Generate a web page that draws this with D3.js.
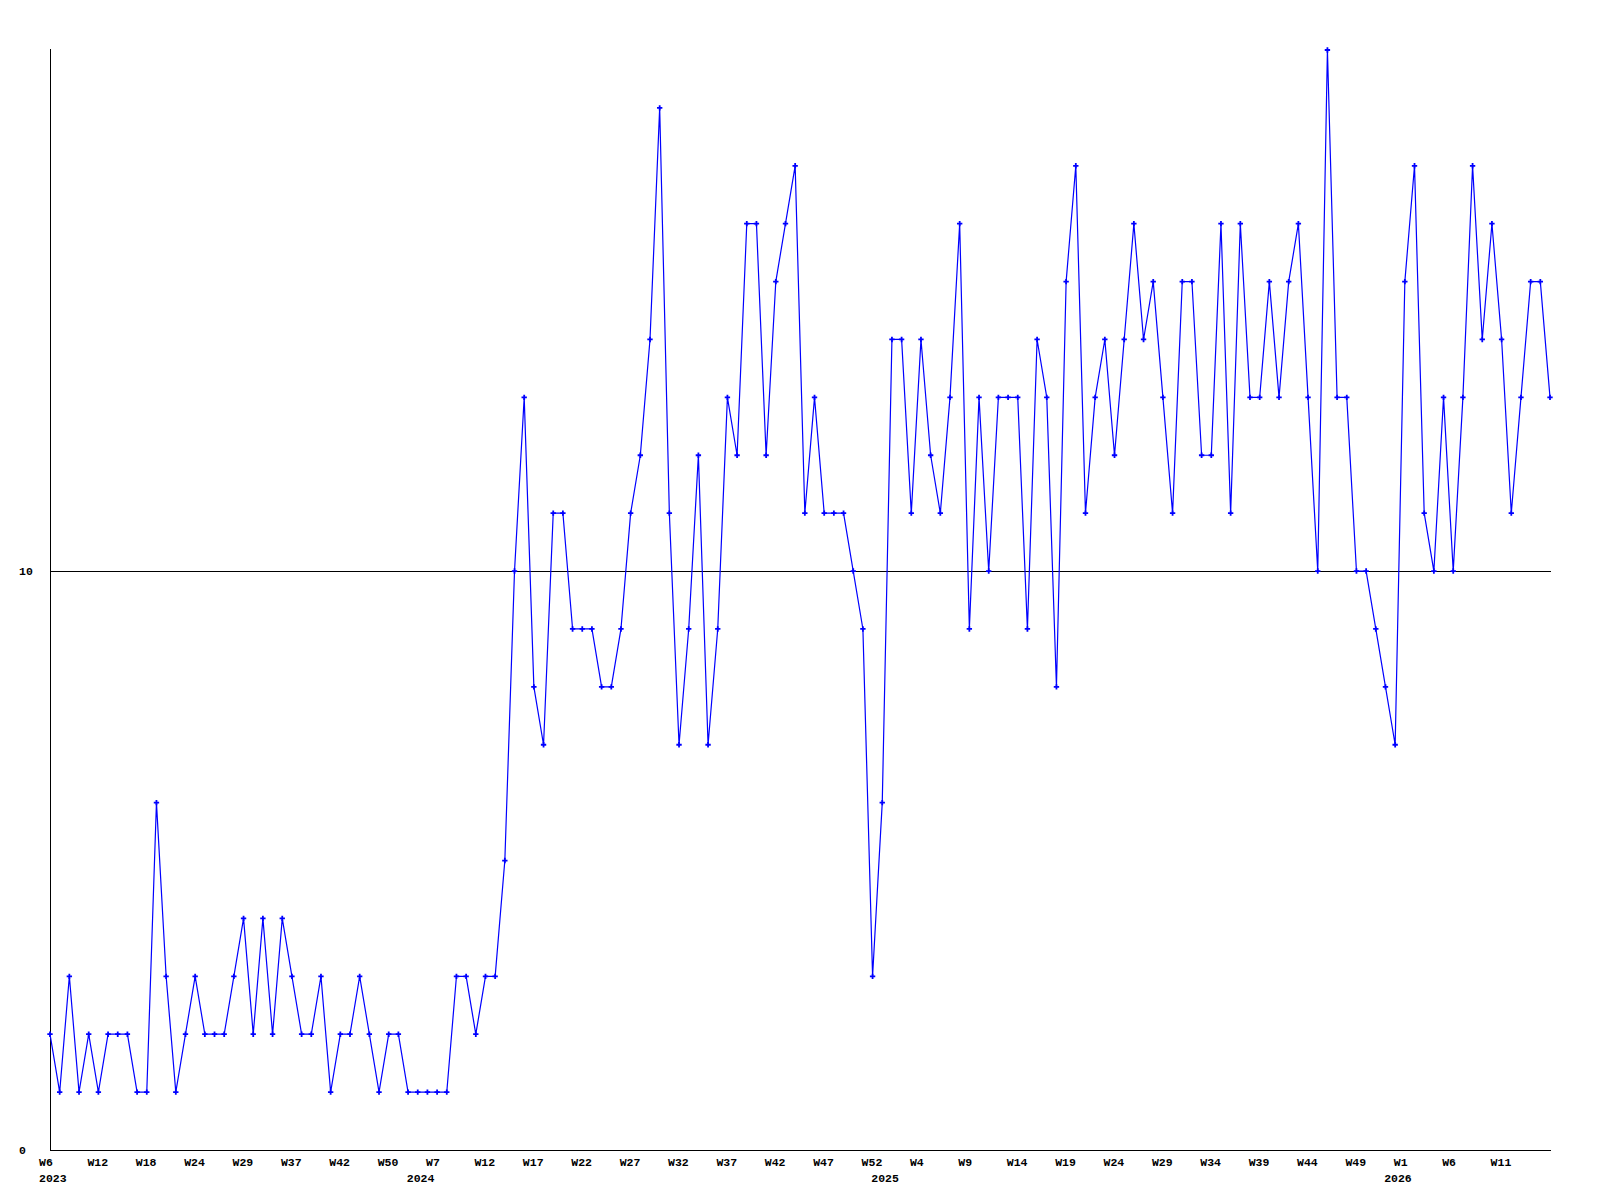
<!DOCTYPE html>
<html>
<head>
<meta charset="utf-8">
<script src="https://cdn.jsdelivr.net/npm/d3@7"></script>
<style>
  html, body { margin: 0; padding: 0; background: #ffffff; }
  svg { display: block; }
  text { font-family: "Liberation Mono", "DejaVu Sans Mono", monospace; font-weight: bold; font-size: 11.5px; fill: #000; }
</style>
</head>
<body>
<svg id="chart" width="1600" height="1200"></svg>
<script>
// ---- data ----
const weeks2023 = [6,7,8,10,11,12,13,14,15,17,18,19,20,21,23,24,25,26,27,28,29,30,31,33,35,37,38,39,40,41,42,43,45,46,48,50,51,52];
const weeks2024 = [5,6,7,8,9,10,11,12,13,14,15,16,17,18,19,20,21,22,23,24,25,26,27,28,29,30,31,32,33,34,35,36,37,38,39,40,41,42,43,44,45,46,47,48,49,50,51,52];
const weeks2025 = [0,1,2,3,4,5,6,7,8,9,10,11,12,13,14,15,16,17,18,19,20,21,22,23,24,25,26,27,28,29,30,31,32,33,34,35,36,37,38,39,40,41,42,43,44,45,46,47,48,49,50,51,52];
const weeks2026 = [0,1,2,3,4,5,6,7,8,9,10,11,12,13,14,15,16];
const years = [2023, 2024, 2025, 2026];

const values = [
  2,1,3,1,2,1,2,2,2,1,
  1,6,3,1,2,3,2,2,2,3,
  4,2,4,2,4,3,2,2,3,1,
  2,2,3,2,1,2,2,1,1,1,
  1,1,3,3,2,3,3,5,10,13,
  8,7,11,11,9,9,9,8,8,9,
  11,12,14,18,11,7,9,12,7,9,
  13,12,16,16,12,15,16,17,11,13,
  11,11,11,10,9,3,6,14,14,11,
  14,12,11,13,16,9,13,10,13,13,
  13,9,14,13,8,15,17,11,13,14,
  12,14,16,14,15,13,11,15,15,12,
  12,16,11,16,13,13,15,13,15,16,
  13,10,19,13,13,10,10,9,8,7,
  15,17,11,10,13,10,13,17,14,16,
  14,11,13,15,15,13
];
const yTicks = [0, 10];
const yMax = 19;
const tickEvery = 5;

// ---- build points ----
const weekLists = [weeks2023, weeks2024, weeks2025, weeks2026];
const points = [];
weekLists.forEach((wl, yi) => {
  wl.forEach((w, wi) => {
    points.push({ year: years[yi], week: w, firstOfYear: wi === 0 });
  });
});
points.forEach((p, i) => { p.i = i; p.v = values[i]; });

// ---- layout ----
const svg = d3.select("#chart");
const plotL = 50, plotR = 1550, plotT = 50, plotB = 1150;
const labelOffset = 11;
const charW = 7;

const x = d3.scalePoint().domain(points.map(p => p.i)).range([plotL, plotR]);
const y = d3.scaleLinear().domain([0, yMax]).range([plotB, plotT]);

// axes lines
svg.append("line").attr("x1", plotL + 0.5).attr("x2", plotL + 0.5).attr("y1", plotT - 1).attr("y2", plotB)
  .attr("stroke", "#000").attr("stroke-width", 1).attr("shape-rendering", "crispEdges");
svg.append("line").attr("x1", plotL).attr("x2", plotR + 1).attr("y1", plotB + 0.5).attr("y2", plotB + 0.5)
  .attr("stroke", "#000").attr("stroke-width", 1).attr("shape-rendering", "crispEdges");

// horizontal reference lines for non-zero ticks
yTicks.filter(t => t > 0).forEach(t => {
  svg.append("line").attr("x1", plotL).attr("x2", plotR + 1)
    .attr("y1", Math.round(y(t)) + 0.5).attr("y2", Math.round(y(t)) + 0.5)
    .attr("stroke", "#000").attr("stroke-width", 1).attr("shape-rendering", "crispEdges");
});

// y labels
svg.selectAll("text.ylab").data(yTicks).enter().append("text")
  .attr("class", "ylab")
  .attr("x", 19)
  .attr("y", d => y(d) + 4)
  .attr("text-anchor", "start")
  .text(d => d);

// x tick labels (skip labels that would run past the plot's right edge)
const tickPts = points.filter(p => p.i % tickEvery === 0 &&
  x(p.i) - labelOffset + ("W" + p.week).length * charW <= plotR);
svg.selectAll("text.xlab").data(tickPts).enter().append("text")
  .attr("class", "xlab")
  .attr("x", d => x(d.i) - labelOffset)
  .attr("y", 1166)
  .attr("text-anchor", "start")
  .text(d => "W" + d.week);

// year labels
svg.selectAll("text.yearlab").data(points.filter(p => p.firstOfYear)).enter().append("text")
  .attr("class", "yearlab")
  .attr("x", d => x(d.i) - labelOffset)
  .attr("y", 1182)
  .attr("text-anchor", "start")
  .text(d => d.year);

// line
const line = d3.line().x(d => x(d.i)).y(d => y(d.v));
svg.append("path").datum(points)
  .attr("d", line)
  .attr("fill", "none")
  .attr("stroke", "#0000ff")
  .attr("stroke-width", 1.2);

// markers
const sym = d3.symbol().type(d3.symbolCross).size(16);
svg.selectAll("path.mark").data(points).enter().append("path")
  .attr("class", "mark")
  .attr("transform", d => `translate(${x(d.i)},${y(d.v)})`)
  .attr("d", sym)
  .attr("fill", "#0000ff");
</script>
</body>
</html>
